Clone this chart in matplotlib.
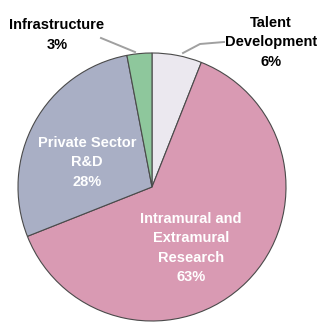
import matplotlib.pyplot as plt

# slices, clockwise from 12 o'clock
labels = ["Talent\nDevelopment", "Intramural and\nExtramural\nResearch",
          "Private Sector\nR&D", "Infrastructure"]
shares = [6, 63, 28, 3]
colors = ["#ebe8ef", "#d99ab3", "#a9afc5", "#8ec79c"]

W, H = 318, 322
CX, CY, R = 152, H - 187, 134

fig = plt.figure(figsize=(W / 100, H / 100), dpi=100)
ax = fig.add_axes([0, 0, 1, 1])

ax.pie(shares, colors=colors, startangle=90, counterclock=False,
       center=(CX, CY), radius=R, frame=True,
       wedgeprops=dict(edgecolor="#4a4a4a", linewidth=0.8))
ax.set_xlim(0, W)
ax.set_ylim(0, H)
ax.set_aspect("equal")
ax.axis("off")

font = dict(family=["Liberation Sans", "DejaVu Sans"], fontweight="bold",
            fontsize=10.5, ha="center", va="center", linespacing=1.5)

# labels inside the pie (white)
ax.text(87, H - 162, labels[2] + "\n%d%%" % shares[2], color="white", **font)
ax.text(191, H - 248, labels[1] + "\n%d%%" % shares[1], color="white", **font)

# labels outside with leader lines
ax.text(57, H - 35, labels[3] + "\n%d%%" % shares[3], color="black", **font)
ax.text(271, H - 42, labels[0] + "\n%d%%" % shares[0], color="black", **font)
ax.plot([101, 135], [H - 38, H - 52], color="#a0a0a0", lw=1.4)
ax.plot([224, 200, 183], [H - 42, H - 44, H - 53], color="#a0a0a0", lw=1.4)

fig.savefig("out.png", dpi=100)
